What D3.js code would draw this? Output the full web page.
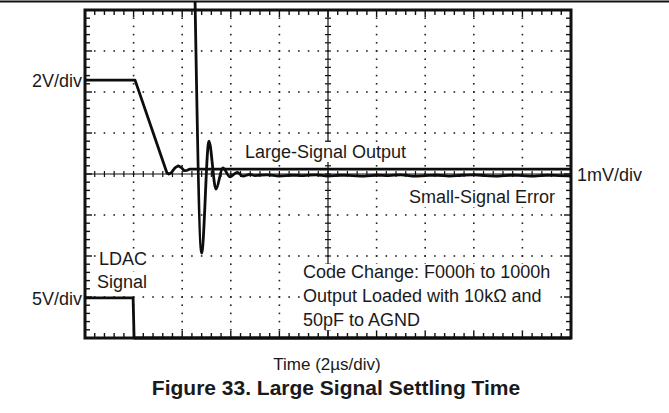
<!DOCTYPE html>
<html>
<head>
<meta charset="utf-8">
<script src="https://cdn.jsdelivr.net/npm/d3@7"></script>
<style>
  body { margin: 0; background: #fff; }
  svg text { font-family: "Liberation Sans", Arial, Helvetica, sans-serif; fill: #1a1a1a; }
</style>
</head>
<body>
<div id="chart"></div>
<script>
// scope screen: 10 divisions of 2us across, 8 divisions up
const timeDivs = 10;
const usPerDiv = 2;
const levelDivs = 8;

// large-signal output (2V/div), time in us, level in divisions
const largeTime  = [0, 2.06, 3.37, 3.45, 3.55, 3.70, 3.83, 3.96, 4.08, 4.20, 4.32, 20];
const largeLevel = [6.29, 6.29, 4.03, 4.00, 4.03, 4.15, 4.20, 4.16, 4.08, 4.09, 4.12, 4.12];

// small-signal error (1mV/div), ringing then settling just under centre
const smallTime  = [4.53, 4.80, 5.10, 5.39, 5.67, 5.97, 6.26, 6.50, 6.79,
                    7.0, 7.5, 8.0, 8.5, 9.0, 9.5, 10.0, 10.5, 11.0, 11.5, 12.0, 12.5,
                    13.0, 13.5, 14.0, 14.5, 15.0, 15.5, 16.0, 16.5, 17.0, 17.5, 18.0,
                    18.5, 19.0, 19.5, 20.0];
const smallLevel = [8.20, 2.07, 4.80, 3.63, 4.15, 3.93, 4.04, 3.95, 3.99,
                    3.96, 3.98, 3.95, 3.97, 3.96, 3.98, 3.95, 3.97, 3.96, 3.95, 3.97, 3.96,
                    3.98, 3.95, 3.96, 3.97, 3.95, 3.97, 3.98, 3.96, 3.95, 3.97, 3.96,
                    3.95, 3.97, 3.96, 3.95];

// LDAC signal (5V/div)
const ldacTime  = [0, 1.98, 2.02, 20];
const ldacLevel = [0.98, 0.98, 0, 0];

// labels outside the screen
const sideLabels = [
  {text: "2V/div", x: 82, y: 87, anchor: "end"},
  {text: "5V/div", x: 82, y: 305, anchor: "end"},
  {text: "1mV/div", x: 577, y: 181, anchor: "start"}
];
// labels on the screen (blank out the graticule behind them)
const screenLabels = [
  {text: "Large-Signal Output", x: 245, y: 158, anchor: "start"},
  {text: "Small-Signal Error", x: 555, y: 203, anchor: "end"},
  {text: "LDAC", x: 99, y: 265, anchor: "start"},
  {text: "Signal", x: 97, y: 288, anchor: "start"}
];
const noteLines = ["Code Change: F000h to 1000h", "Output Loaded with 10k\u03A9 and", "50pF to AGND"];

const W = 669, H = 413;
const svg = d3.select("#chart").append("svg")
  .attr("width", W).attr("height", H);

const x = d3.scaleLinear().domain([0, timeDivs * usPerDiv]).range([85, 571]);
const y = d3.scaleLinear().domain([0, levelDivs]).range([338, 10]);

// rule across the top of the page
svg.append("line")
  .attr("x1", 0).attr("x2", W).attr("y1", 1.5).attr("y2", 1.5)
  .attr("stroke", "#111").attr("stroke-width", 1.8);

// dotted graticule
const minorX = d3.range(0, timeDivs * usPerDiv + 0.001, usPerDiv / 5);
const minorY = d3.range(0, levelDivs + 0.001, 0.2);
const dots = svg.append("g").attr("fill", "#222");
for (let d = 1; d < timeDivs; d++) {
  if (d === timeDivs / 2) continue;
  minorY.forEach(v => dots.append("rect")
    .attr("x", x(d * usPerDiv) - 0.8).attr("y", y(v) - 0.8)
    .attr("width", 1.6).attr("height", 1.6));
}
for (let d = 1; d < levelDivs; d++) {
  if (d === levelDivs / 2) continue;
  minorX.forEach(t => dots.append("rect")
    .attr("x", x(t) - 0.8).attr("y", y(d) - 0.8)
    .attr("width", 1.6).attr("height", 1.6));
}

// centre axes with cross ticks
const axes = svg.append("g").attr("stroke", "#111").attr("stroke-width", 1.2);
axes.append("line").attr("x1", x(0)).attr("x2", x(20)).attr("y1", y(4)).attr("y2", y(4));
axes.append("line").attr("x1", x(10)).attr("x2", x(10)).attr("y1", y(0)).attr("y2", y(8));
minorX.forEach(t => axes.append("line")
  .attr("x1", x(t)).attr("x2", x(t)).attr("y1", y(4) - 3).attr("y2", y(4) + 3));
minorY.forEach(v => axes.append("line")
  .attr("x1", x(10) - 3).attr("x2", x(10) + 3).attr("y1", y(v)).attr("y2", y(v)));

// on-screen text with white knockouts
const knock = svg.append("g");
const texts = svg.append("g");
screenLabels.forEach(d => {
  const t = texts.append("text")
    .attr("x", d.x).attr("y", d.y)
    .attr("text-anchor", d.anchor)
    .attr("font-size", 18)
    .text(d.text);
  const b = t.node().getBBox();
  knock.append("rect")
    .attr("x", b.x - 3).attr("y", b.y)
    .attr("width", b.width + 6).attr("height", b.height)
    .attr("fill", "#fff");
});
const note = texts.append("g");
noteLines.forEach((s, i) => note.append("text")
  .attr("x", 303).attr("y", 278 + i * 24)
  .attr("font-size", 18)
  .text(s));
const nb = note.node().getBBox();
knock.append("rect")
  .attr("x", nb.x - 3).attr("y", nb.y + 2)
  .attr("width", 560 - nb.x + 3).attr("height", 330 - nb.y - 2)
  .attr("fill", "#fff");

// edge ticks
const edge = svg.append("g").attr("stroke", "#111").attr("stroke-width", 1.4);
minorX.forEach((t, i) => {
  const len = i % 5 === 0 ? 7 : 5;
  edge.append("line").attr("x1", x(t)).attr("x2", x(t)).attr("y1", y(8)).attr("y2", y(8) + len);
  edge.append("line").attr("x1", x(t)).attr("x2", x(t)).attr("y1", y(0)).attr("y2", y(0) - len);
});
minorY.forEach((v, i) => {
  const len = i % 5 === 0 ? 7 : 5;
  edge.append("line").attr("x1", x(0)).attr("x2", x(0) + len).attr("y1", y(v)).attr("y2", y(v));
  edge.append("line").attr("x1", x(20)).attr("x2", x(20) - len).attr("y1", y(v)).attr("y2", y(v));
});

// frame
svg.append("rect")
  .attr("x", x(0)).attr("y", y(8))
  .attr("width", x(20) - x(0)).attr("height", y(0) - y(8))
  .attr("fill", "none").attr("stroke", "#111").attr("stroke-width", 3);

// traces
const line = d3.line().x(d => x(d[0])).y(d => y(d[1]));
const traces = [
  {t: largeTime, v: largeLevel, curve: d3.curveLinear},
  {t: smallTime, v: smallLevel, curve: d3.curveMonotoneX},
  {t: ldacTime, v: ldacLevel, curve: d3.curveLinear}
];
traces.forEach(tr => {
  svg.append("path")
    .datum(d3.zip(tr.t, tr.v))
    .attr("d", line.curve(tr.curve))
    .attr("fill", "none")
    .attr("stroke", "#0d0d0d")
    .attr("stroke-width", 2.8)
    .attr("stroke-linejoin", "round");
});
texts.raise();

// labels beside the screen
svg.selectAll("text.side")
  .data(sideLabels)
  .enter().append("text")
  .attr("class", "side")
  .attr("x", d => d.x).attr("y", d => d.y)
  .attr("text-anchor", d => d.anchor)
  .attr("font-size", 18)
  .text(d => d.text);

svg.append("text")
  .attr("x", 327).attr("y", 370)
  .attr("text-anchor", "middle")
  .attr("font-size", 17)
  .text("Time (2\u00B5s/div)");

svg.append("text")
  .attr("x", 336).attr("y", 395)
  .attr("text-anchor", "middle")
  .attr("font-size", 21)
  .attr("font-weight", "bold")
  .text("Figure 33. Large Signal Settling Time");
</script>
</body>
</html>
